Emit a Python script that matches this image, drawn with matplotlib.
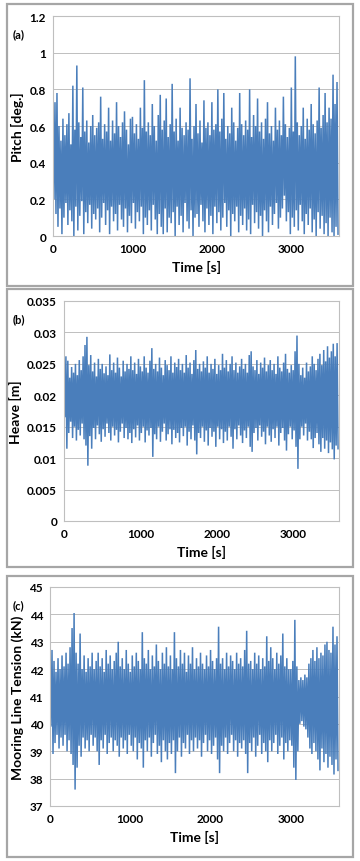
import numpy as np
import matplotlib
matplotlib.use('Agg')
import matplotlib.pyplot as plt
from matplotlib.patches import Rectangle

plt.rcParams['font.family'] = ['Lato', 'DejaVu Sans']

# sample spacing of the read-off series (peak / trough pairs every 25 s)
dt = 12.5

pitch_peaks = [
    0.56, 0.73, 0.78, 0.60, 0.52, 0.64, 0.55, 0.61, 0.67, 0.50, 0.82, 0.58,
    0.93, 0.62, 0.54, 0.81, 0.57, 0.63, 0.51, 0.60, 0.66, 0.55, 0.59, 0.62,
    0.76, 0.53, 0.61, 0.57, 0.70, 0.52, 0.63, 0.56, 0.73, 0.60, 0.54, 0.62,
    0.68, 0.58, 0.50, 0.64, 0.65, 0.56, 0.61, 0.53, 0.70, 0.59, 0.85, 0.57,
    0.62, 0.55, 0.72, 0.60, 0.52, 0.66, 0.77, 0.58, 0.63, 0.75, 0.54, 0.61,
    0.83, 0.57, 0.64, 0.52, 0.70, 0.59, 0.55, 0.62, 0.58, 0.86, 0.53, 0.60,
    0.72, 0.56, 0.63, 0.51, 0.74, 0.59, 0.62, 0.55, 0.73, 0.58, 0.61, 0.80,
    0.57, 0.64, 0.78, 0.53, 0.60, 0.56, 0.70, 0.62, 0.52, 0.59, 0.78, 0.61,
    0.55, 0.63, 0.58, 0.80, 0.54, 0.66, 0.60, 0.75, 0.57, 0.62, 0.53, 0.64,
    0.73, 0.56, 0.60, 0.52, 0.70, 0.58, 0.63, 0.55, 0.76, 0.61, 0.54, 0.59,
    0.81, 0.57, 0.98, 0.62, 0.55, 0.60, 0.70, 0.53, 0.64, 0.58, 0.72, 0.61,
    0.56, 0.63, 0.81, 0.59, 0.66, 0.78, 0.62, 0.70, 0.64, 0.88, 0.72, 0.84,
]
pitch_troughs = [
    0.20, 0.12, 0.05, 0.15, 0.01, 0.10, 0.18, 0.06, 0.14, 0.08, 0.00, 0.16,
    0.03, 0.11, 0.19, 0.01, 0.13, 0.07, 0.17, 0.04, 0.12, 0.09, 0.15, 0.02,
    0.10, 0.18, 0.06, 0.14, 0.01, 0.16, 0.08, 0.12, 0.03, 0.17, 0.09, 0.05,
    0.15, 0.02, 0.11, 0.07, 0.18, 0.04, 0.13, 0.08, 0.16, 0.01, 0.10, 0.06,
    0.14, 0.03, 0.17, 0.09, 0.01, 0.12, 0.05, 0.01, 0.15, 0.02, 0.10, 0.07,
    0.13, 0.00, 0.16, 0.06, 0.11, 0.02, 0.18, 0.08, 0.04, 0.14, 0.00, 0.10,
    0.12, 0.05, 0.17, 0.08, 0.02, 0.15, 0.06, 0.11, 0.01, 0.16, 0.07, 0.13,
    0.03, 0.10, 0.18, 0.05, 0.14, 0.00, 0.12, 0.08, 0.16, 0.02, 0.11, 0.06,
    0.15, 0.03, 0.09, 0.01, 0.17, 0.07, 0.13, 0.04, 0.11, 0.00, 0.14, 0.08,
    0.02, 0.16, 0.06, 0.12, 0.18, 0.04, 0.10, 0.15, 0.22, 0.08, 0.13, 0.01,
    0.10, 0.05, 0.14, 0.03, 0.17, 0.08, 0.01, 0.12, 0.06, 0.15, 0.02, 0.09,
    0.00, 0.13, 0.04, 0.11, 0.01, 0.07, 0.00, 0.10, 0.02, 0.00, 0.05, 0.01,
]

heave_peaks = [
    0.0240, 0.0262, 0.0255, 0.0228, 0.0245, 0.0236, 0.0250, 0.0232, 0.0256, 0.0240, 0.0262, 0.0280,
    0.0293, 0.0248, 0.0264, 0.0238, 0.0252, 0.0230, 0.0258, 0.0242, 0.0250, 0.0235, 0.0246, 0.0232,
    0.0265, 0.0240, 0.0252, 0.0236, 0.0260, 0.0244, 0.0230, 0.0255, 0.0238, 0.0250, 0.0242, 0.0262,
    0.0240, 0.0252, 0.0234, 0.0258, 0.0246, 0.0238, 0.0262, 0.0244, 0.0236, 0.0255, 0.0275, 0.0242,
    0.0250, 0.0238, 0.0260, 0.0244, 0.0232, 0.0256, 0.0248, 0.0240, 0.0262, 0.0236, 0.0252, 0.0245,
    0.0258, 0.0240, 0.0250, 0.0236, 0.0264, 0.0244, 0.0252, 0.0234, 0.0256, 0.0272, 0.0242, 0.0250,
    0.0238, 0.0254, 0.0244, 0.0262, 0.0236, 0.0250, 0.0242, 0.0258, 0.0234, 0.0248, 0.0240, 0.0266,
    0.0244, 0.0256, 0.0238, 0.0250, 0.0262, 0.0240, 0.0252, 0.0236, 0.0246, 0.0258, 0.0242, 0.0250,
    0.0236, 0.0264, 0.0270, 0.0246, 0.0240, 0.0256, 0.0234, 0.0252, 0.0244, 0.0260, 0.0238, 0.0248,
    0.0256, 0.0240, 0.0250, 0.0234, 0.0262, 0.0244, 0.0238, 0.0252, 0.0266, 0.0242, 0.0236, 0.0248,
    0.0240, 0.0270, 0.0295, 0.0250, 0.0232, 0.0244, 0.0228, 0.0252, 0.0238, 0.0246, 0.0262, 0.0250,
    0.0240, 0.0258, 0.0266, 0.0248, 0.0272, 0.0254, 0.0278, 0.0260, 0.0270, 0.0282, 0.0262, 0.0283,
]
heave_troughs = [
    0.0165, 0.0115, 0.0140, 0.0158, 0.0132, 0.0150, 0.0128, 0.0145, 0.0136, 0.0155, 0.0130, 0.0120,
    0.0088, 0.0135, 0.0115, 0.0148, 0.0130, 0.0152, 0.0138, 0.0126, 0.0146, 0.0134, 0.0155, 0.0140,
    0.0128, 0.0150, 0.0136, 0.0145, 0.0125, 0.0142, 0.0155, 0.0132, 0.0148, 0.0130, 0.0140, 0.0124,
    0.0146, 0.0133, 0.0152, 0.0128, 0.0140, 0.0150, 0.0125, 0.0144, 0.0136, 0.0148, 0.0102, 0.0138,
    0.0130, 0.0150, 0.0126, 0.0142, 0.0155, 0.0128, 0.0138, 0.0146, 0.0122, 0.0145, 0.0132, 0.0140,
    0.0125, 0.0148, 0.0135, 0.0150, 0.0120, 0.0142, 0.0130, 0.0152, 0.0128, 0.0106, 0.0140, 0.0132,
    0.0150, 0.0126, 0.0144, 0.0120, 0.0148, 0.0134, 0.0142, 0.0118, 0.0150, 0.0130, 0.0146, 0.0124,
    0.0142, 0.0128, 0.0150, 0.0134, 0.0115, 0.0146, 0.0130, 0.0152, 0.0136, 0.0124, 0.0144, 0.0132,
    0.0150, 0.0118, 0.0110, 0.0140, 0.0148, 0.0128, 0.0152, 0.0134, 0.0142, 0.0122, 0.0150, 0.0136,
    0.0126, 0.0146, 0.0132, 0.0150, 0.0120, 0.0140, 0.0148, 0.0128, 0.0112, 0.0138, 0.0150, 0.0130,
    0.0144, 0.0118, 0.0083, 0.0130, 0.0150, 0.0136, 0.0155, 0.0128, 0.0142, 0.0130, 0.0116, 0.0132,
    0.0140, 0.0122, 0.0110, 0.0132, 0.0115, 0.0128, 0.0108, 0.0125, 0.0114, 0.0098, 0.0120, 0.0115,
]

tension_peaks = [
    41.8, 42.7, 42.3, 41.9, 42.4, 42.0, 42.5, 42.1, 42.6, 42.2, 42.8, 43.5,
    44.05, 42.6, 42.2, 43.3, 42.0, 42.5, 41.9, 42.4, 42.1, 42.6, 42.0, 42.3,
    42.6, 42.1, 42.4, 41.9, 42.7, 42.2, 42.5, 42.0, 42.3, 42.6, 43.0, 42.1,
    42.4, 42.0, 42.7, 42.2, 41.9, 42.5, 42.1, 42.6, 42.3, 42.0, 43.35, 42.4,
    42.2, 42.7, 42.0, 42.5, 42.1, 42.9, 42.3, 42.0, 42.6, 42.2, 42.8, 42.1,
    42.5, 42.0, 43.35, 42.4, 42.1, 42.7, 42.2, 42.6, 41.9, 42.5, 42.2, 42.8,
    42.0, 42.4, 42.1, 42.6, 42.2, 42.0, 42.5, 42.1, 42.7, 42.3, 42.0, 42.4,
    43.55, 42.2, 42.4, 42.0, 42.6, 42.1, 42.5, 42.3, 42.0, 42.6, 42.2, 42.4,
    42.1, 42.7, 43.4, 42.2, 42.3, 42.0, 42.6, 42.2, 42.5, 42.0, 42.4, 42.1,
    43.2, 42.3, 42.8, 42.4, 42.0, 42.6, 42.2, 42.5, 43.3, 42.1, 42.4, 42.0,
    42.0, 42.3, 43.8, 42.1, 41.6, 41.7, 41.6, 41.8, 41.7, 42.2, 42.4, 42.7,
    42.3, 42.8, 42.4, 42.6, 42.5, 42.9, 43.0, 42.7, 42.6, 43.55, 42.9, 43.2,
]
tension_troughs = [
    39.9, 38.9, 39.3, 39.6, 39.1, 39.5, 39.2, 39.6, 39.0, 39.4, 38.9, 38.5,
    37.6, 38.4, 39.2, 38.8, 39.5, 39.1, 39.4, 39.0, 39.6, 39.2, 39.5, 39.0,
    38.5, 39.4, 39.1, 39.6, 38.9, 39.3, 39.5, 39.0, 39.4, 39.2, 38.8, 39.5,
    39.1, 39.4, 38.9, 39.6, 39.2, 39.0, 39.5, 38.7, 39.3, 39.1, 38.4, 39.4,
    39.0, 39.5, 38.8, 39.3, 39.6, 38.9, 39.2, 38.6, 39.4, 39.0, 38.7, 39.3,
    38.9, 39.4, 38.2, 39.0, 39.5, 38.8, 39.3, 39.1, 39.6, 38.9, 39.4, 39.0,
    39.5, 39.1, 39.4, 38.8, 39.3, 39.6, 39.0, 39.4, 38.9, 39.2, 39.5, 38.7,
    38.2, 39.2, 39.0, 39.5, 38.9, 39.3, 39.6, 39.0, 39.4, 38.8, 39.3, 39.1,
    39.4, 38.9, 38.2, 39.3, 39.0, 39.5, 38.8, 39.2, 39.6, 38.9, 39.3, 39.0,
    38.6, 39.4, 39.0, 39.3, 39.6, 38.9, 39.2, 39.5, 38.7, 39.3, 39.0, 39.4,
    39.2, 38.4, 37.95, 39.0, 40.0, 40.1, 39.9, 39.8, 39.5, 39.1, 38.9, 39.3,
    39.0, 38.7, 38.3, 39.1, 38.6, 38.9, 38.4, 38.8, 38.5, 38.15, 38.7, 38.3,
]

pitch_ticks = [0, 0.2, 0.4, 0.6, 0.8, 1.0, 1.2]
pitch_ticklabels = ['0', '0.2', '0.4', '0.6', '0.8', '1', '1.2']
heave_ticks = [0, 0.005, 0.01, 0.015, 0.02, 0.025, 0.03, 0.035]
heave_ticklabels = ['0', '0.005', '0.01', '0.015', '0.02', '0.025', '0.03', '0.035']
tension_ticks = [37, 38, 39, 40, 41, 42, 43, 44, 45]
tension_ticklabels = [str(v) for v in tension_ticks]
time_ticks = [0, 1000, 2000, 3000]

LINE = '#4a7ebb'
GRID = '#bfbfbf'
W, H = 360, 862


def series(peaks, troughs):
    y = np.column_stack([peaks, troughs]).ravel()
    t = np.arange(len(y)) * dt
    return t, y


def px_rect(x0, y0, x1, y1):
    # pixel box (top-left origin) -> figure fraction [l, b, w, h]
    return [x0 / W, 1 - y1 / H, (x1 - x0) / W, (y1 - y0) / H]


fig = plt.figure(figsize=(3.6, 8.62), dpi=100)

panels = [
    dict(peaks=pitch_peaks, troughs=pitch_troughs, ticks=pitch_ticks,
         labels=pitch_ticklabels, ylabel='Pitch [deg.]', tag='(a)',
         ax=(53, 17, 339, 237), frame=(7, 5, 353, 287)),
    dict(peaks=heave_peaks, troughs=heave_troughs, ticks=heave_ticks,
         labels=heave_ticklabels, ylabel='Heave [m]', tag='(b)',
         ax=(64, 302, 339, 522), frame=(7, 290, 353, 568)),
    dict(peaks=tension_peaks, troughs=tension_troughs, ticks=tension_ticks,
         labels=tension_ticklabels, ylabel='Mooring Line Tension (kN)', tag='(c)',
         ax=(50, 588, 339, 807), frame=(7, 577, 353, 858)),
]

for p in panels:
    fx0, fy0, fx1, fy1 = p['frame']
    fig.patches.append(Rectangle((fx0 / W, 1 - fy1 / H), (fx1 - fx0) / W, (fy1 - fy0) / H,
                                 transform=fig.transFigure, fill=False,
                                 edgecolor='#a6a6a6', linewidth=1.6))

    ax = fig.add_axes(px_rect(*p['ax']))
    t, y = series(p['peaks'], p['troughs'])
    ax.plot(t, y, color=LINE, linewidth=1.1, solid_joinstyle='miter')
    ax.set_xlim(0, 3600)
    ax.set_ylim(p['ticks'][0], p['ticks'][-1])
    ax.set_yticks(p['ticks'])
    ax.set_yticklabels(p['labels'])
    ax.set_xticks(time_ticks)
    ax.grid(axis='y', color=GRID, linewidth=0.7)
    ax.set_axisbelow(True)
    for s in ax.spines.values():
        s.set_color(GRID)
        s.set_linewidth(0.8)
    ax.tick_params(length=0, labelsize=8.5, pad=5)
    for lab in ax.get_xticklabels() + ax.get_yticklabels():
        lab.set_fontweight('bold')
    ax.set_xlabel('Time [s]', fontsize=10, fontweight='bold', labelpad=4)
    ax.set_ylabel(p['ylabel'], fontsize=10, fontweight='bold', labelpad=4)

    ax_y0 = p['ax'][1]
    fig.text((fx0 + 6) / W, 1 - (ax_y0 + 18) / H, p['tag'], fontsize=8,
             fontweight='bold', va='center', ha='left')

fig.savefig('out.png', dpi=100)
